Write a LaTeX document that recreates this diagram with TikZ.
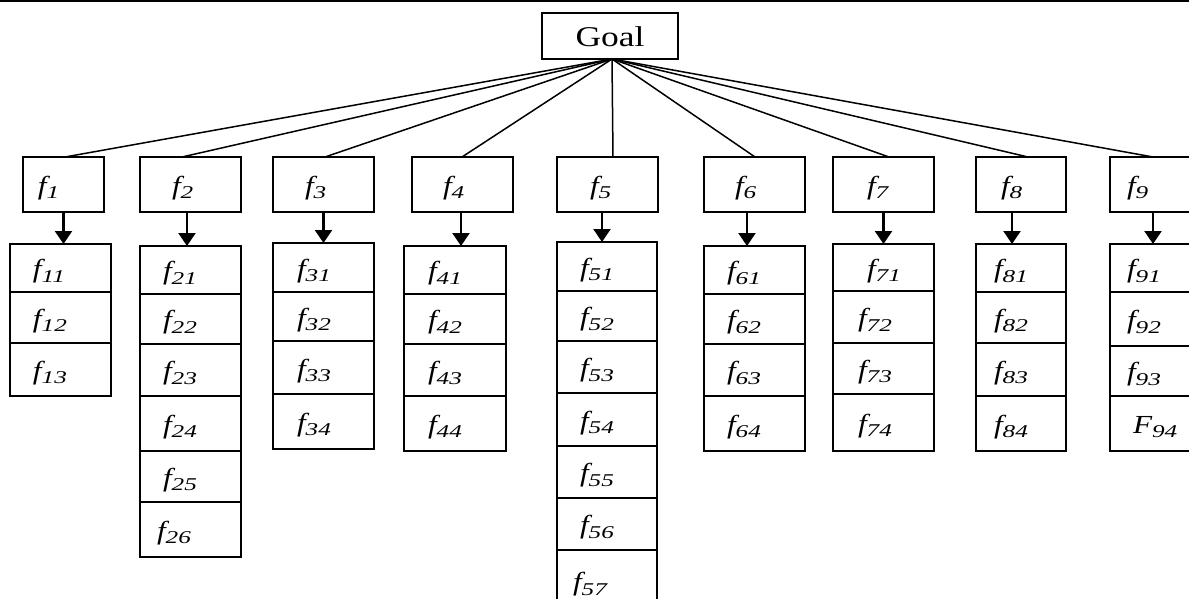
\documentclass[tikz,border=0pt]{standalone}
\usepackage{fontspec}
\setmainfont{Liberation Serif}
\newfontfamily\lblfont{Liberation Serif}[FakeStretch=1.2]
\newfontfamily\subfont{Liberation Serif}[FakeStretch=1.4]
\newfontfamily\goalfont{Liberation Serif}[FakeStretch=1.24]
\usetikzlibrary{arrows.meta}
\newcommand\fl[2]{{\lblfont\itshape\fontsize{13}{13}\selectfont #1\raisebox{-0.18em}{\subfont\itshape\fontsize{9}{9}\selectfont #2}}}
\tikzset{
  cell/.style={draw, line width=1pt, inner sep=0pt, outer sep=0pt, anchor=north west, text height=11.5pt, text depth=2pt},
  goalbox/.style={draw, line width=1pt, inner sep=0pt, outer sep=0pt, minimum width=68pt, minimum height=23pt, text height=10.5pt, text depth=0pt, font=\goalfont\fontsize{14.3}{14.3}\selectfont},
  conn/.style={line width=0.75pt},
  arr/.style={line width=1.1pt, -{Triangle[width=8.5pt,length=6.5pt]}}
}
\newcommand\cell[7]{\node[cell, minimum width={#5*0.5pt}, minimum height={(#4-#3)*0.5pt}] (#1) at (#2,#3) {\makebox[\dimexpr#5pt/2\relax][l]{\hspace*{\dimexpr#6pt/2\relax}#7}};}
\begin{document}
\begin{tikzpicture}[x=0.5pt, y=-0.5pt]
\useasboundingbox (0,0) rectangle (1189,599);
\draw[line width=1pt] (0,1) -- (1189,1);
\node[goalbox] (goal) at (610,36) {Goal};
% level 1
\cell{f1}{23}{157}{212}{81}{15}{\fl{f}{1}}
\cell{f2}{140}{157}{212}{101}{32}{\fl{f}{2}}
\cell{f3}{273}{157}{212}{101}{32}{\fl{f}{3}}
\cell{f4}{412}{157}{212}{101}{31}{\fl{f}{4}}
\cell{f5}{557}{157}{212}{101}{33}{\fl{f}{5}}
\cell{f6}{704}{157}{212}{101}{31}{\fl{f}{6}}
\cell{f7}{833}{157}{212}{101}{34}{\fl{f}{7}}
\cell{f8}{976}{157}{212}{90}{25}{\fl{f}{8}}
\cell{f9}{1110}{157}{212}{90}{17}{\fl{f}{9}}
% column 1
\cell{f11}{10}{244}{292}{101}{23}{\fl{f}{11}}
\cell{f12}{10}{292}{343}{101}{23}{\fl{f}{12}}
\cell{f13}{10}{343}{396}{101}{23}{\fl{f}{13}}
% column 2
\cell{f21}{140}{246}{294}{101}{23}{\fl{f}{21}}
\cell{f22}{140}{294}{344}{101}{23}{\fl{f}{22}}
\cell{f23}{140}{344}{396}{101}{23}{\fl{f}{23}}
\cell{f24}{140}{396}{451}{101}{23}{\fl{f}{24}}
\cell{f25}{140}{451}{502}{101}{23}{\fl{f}{25}}
\cell{f26}{140}{502}{557}{101}{17}{\fl{f}{26}}
% column 3
\cell{f31}{273}{243}{292}{101}{24}{\fl{f}{31}}
\cell{f32}{273}{292}{341}{101}{24}{\fl{f}{32}}
\cell{f33}{273}{341}{394}{101}{24}{\fl{f}{33}}
\cell{f34}{273}{394}{449}{101}{24}{\fl{f}{34}}
% column 4
\cell{f41}{404}{246}{294}{102}{24}{\fl{f}{41}}
\cell{f42}{404}{294}{344}{102}{24}{\fl{f}{42}}
\cell{f43}{404}{344}{396}{102}{24}{\fl{f}{43}}
\cell{f44}{404}{396}{451}{102}{24}{\fl{f}{44}}
% column 5
\cell{f51}{557}{242}{291}{100}{23}{\fl{f}{51}}
\cell{f52}{557}{291}{341}{100}{23}{\fl{f}{52}}
\cell{f53}{557}{341}{393}{100}{23}{\fl{f}{53}}
\cell{f54}{557}{393}{446}{100}{23}{\fl{f}{54}}
\cell{f55}{557}{446}{498}{100}{23}{\fl{f}{55}}
\cell{f56}{557}{498}{550}{100}{23}{\fl{f}{56}}
\cell{f57}{557}{550}{612}{100}{16}{\fl{f}{57}}
% column 6
\cell{f61}{704}{246}{294}{101}{23}{\fl{f}{61}}
\cell{f62}{704}{294}{344}{101}{23}{\fl{f}{62}}
\cell{f63}{704}{344}{396}{101}{23}{\fl{f}{63}}
\cell{f64}{704}{396}{451}{101}{23}{\fl{f}{64}}
% column 7
\cell{f71}{833}{244}{291}{101}{34}{\fl{f}{71}}
\cell{f72}{833}{291}{343}{101}{25}{\fl{f}{72}}
\cell{f73}{833}{343}{394}{101}{25}{\fl{f}{73}}
\cell{f74}{833}{394}{451}{101}{25}{\fl{f}{74}}
% column 8
\cell{f81}{976}{244}{292}{90}{18}{\fl{f}{81}}
\cell{f82}{976}{292}{343}{90}{18}{\fl{f}{82}}
\cell{f83}{976}{343}{396}{90}{18}{\fl{f}{83}}
\cell{f84}{976}{396}{451}{90}{18}{\fl{f}{84}}
% column 9
\cell{f91}{1110}{244}{292}{90}{17}{\fl{f}{91}}
\cell{f92}{1110}{292}{346}{90}{17}{\fl{f}{92}}
\cell{f93}{1110}{346}{396}{90}{17}{\fl{f}{93}}
\cell{f94}{1110}{396}{451}{90}{23}{\fl{F}{94}}
% goal connectors
\draw[conn] ([xshift=1pt]goal.south) -- ([xshift=0.75pt]f1.north);
\draw[conn] ([xshift=1pt]goal.south) -- ([xshift=-4.25pt]f2.north);
\draw[conn] ([xshift=1pt]goal.south) -- ([xshift=0.75pt]f3.north);
\draw[conn] ([xshift=1pt]goal.south) -- ([xshift=-0.25pt]f4.north);
\draw[conn] ([xshift=1pt]goal.south) -- ([xshift=2.75pt]f5.north);
\draw[conn] ([xshift=1pt]goal.south) -- ([xshift=0.25pt]f6.north);
\draw[conn] ([xshift=1pt]goal.south) -- ([xshift=2.75pt]f7.north);
\draw[conn] ([xshift=1pt]goal.south) -- ([xshift=3.5pt]f8.north);
\draw[conn] ([xshift=1pt]goal.south) -- ([xshift=-1pt]f9.north);
% arrows
\draw[arr] (f1.south) -- (f1.south |- f11.north);
\draw[arr] ([xshift=-1.75pt]f2.south) -- ([xshift=-1.75pt]f2.south |- f21.north);
\draw[arr] (f3.south) -- (f3.south |- f31.north);
\draw[arr] ([xshift=-0.75pt]f4.south) -- ([xshift=-0.75pt]f4.south |- f41.north);
\draw[arr] ([xshift=-2.75pt]f5.south) -- ([xshift=-2.75pt]f5.south |- f51.north);
\draw[arr] ([xshift=-3.75pt]f6.south) -- ([xshift=-3.75pt]f6.south |- f61.north);
\draw[arr] (f7.south) -- (f7.south |- f71.north);
\draw[arr] ([xshift=-4.5pt]f8.south) -- ([xshift=-4.5pt]f8.south |- f81.north);
\draw[arr] ([xshift=-1pt]f9.south) -- ([xshift=-1pt]f9.south |- f91.north);
\end{tikzpicture}
\end{document}
